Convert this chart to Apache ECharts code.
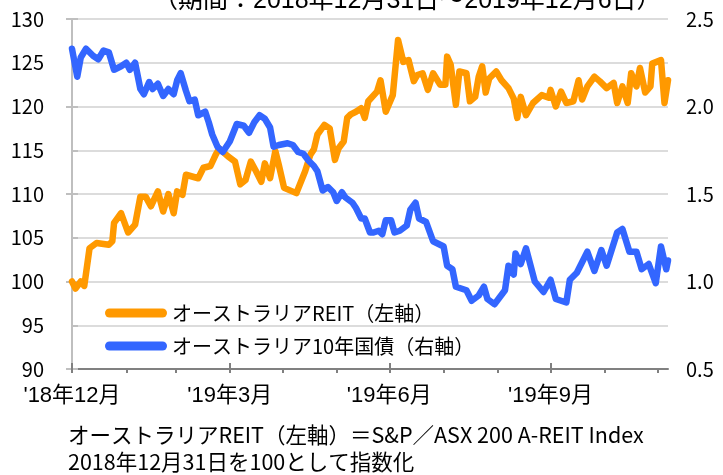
<!DOCTYPE html>
<html>
<head>
<meta charset="utf-8">
<script src="https://cdn.jsdelivr.net/npm/echarts@6/dist/echarts.min.js"></script>
<style>
  html, body { margin: 0; padding: 0; background: #fff; }
  #main { width: 723px; height: 475px; }
</style>
</head>
<body>
<div id="main"></div>
<script>
// 経過日数（2018/12/31 = 0）
const reitDays = [0, 2, 5, 7, 10, 14, 21, 23, 24, 28, 32, 36, 39, 42, 45, 49, 52, 55, 58, 60, 63, 65, 72, 75, 79, 82, 84,
  89, 93, 96, 99, 102, 105, 108, 110, 113, 116, 118, 121, 128, 133, 136, 138, 140, 144, 147, 150, 152, 155, 157, 159,
  162, 165, 167, 169, 174, 176, 179, 183, 186, 189, 192, 195, 197, 200, 203, 206, 210, 213, 214, 216, 219, 221, 225,
  227, 230, 232, 234, 236, 238, 242, 245, 249, 252, 254, 256, 259, 263, 268, 272, 273, 276, 279, 282, 286, 289, 291,
  294, 298, 301, 305, 309, 311, 314, 317, 319, 322, 324, 327, 330, 331, 336, 338, 340];
const reitValues = [100, 99.2, 100, 99.5, 103.8, 104.4, 104.2, 104.6, 106.7, 107.8, 105.6, 106.5, 109.7, 109.7, 108.6,
  110.3, 108, 110, 107.8, 110.3, 109.9, 112.2, 111.8, 113, 113.2, 114.5, 115.2,
  114.3, 113.7, 111.1, 111.6, 113.7, 112.6, 111.4, 113.5, 111.8, 114.9, 113.3, 110.7, 110.1, 112.6, 114.5, 115.1,
  116.8, 117.9, 117.5, 113.9, 115.2, 116, 118.7, 119.1, 119.4, 119.8, 118.7, 120.6, 121.7, 123, 119.4, 121.3, 127.6,
  125.1, 125.3, 122.9, 123.6, 123.8, 121.9, 123.8, 122.5, 122.5, 125.7, 124.8, 120.2, 124, 123.8, 120.6, 121.1,
  123.4, 124.6, 121.6, 123.2, 124, 123, 122.1, 120.9, 118.7, 121.1, 119, 120.4, 121.3, 121, 121.9, 120, 121.7,
  120.4, 120.6, 123, 120.8, 122.3, 123.4, 122.9, 122.1, 122.7, 120.4, 122.3, 120.4, 123.8, 122.3, 124.4, 121.6,
  122.3, 124.9, 125.3, 120.4, 123];

const bondDays = [0, 3, 5, 8, 12, 15, 18, 21, 24, 28, 31, 33, 36, 39, 41, 44, 46, 49, 52, 55, 58, 60, 62, 65, 67, 70,
  72, 76, 78, 80, 83, 86, 90, 94, 98, 101, 104, 107, 110, 113, 115, 118, 123, 126, 129, 132, 135, 138, 140, 143, 146,
  149, 151, 154, 156, 160, 162, 165, 167, 170, 172, 175, 177, 179, 182, 184, 187, 191, 193, 196, 198, 202, 206, 210,
  212, 214, 217, 219, 222, 225, 228, 232, 235, 237, 241, 244, 247, 249, 252, 253, 256, 259, 264, 269, 273, 276, 282,
  284, 288, 294, 298, 302, 305, 311, 314, 318, 322, 325, 329, 333, 336, 339, 340];
const bondValues = [2.33, 2.17, 2.28, 2.33, 2.29, 2.27, 2.32, 2.31, 2.21, 2.23, 2.25, 2.21, 2.25, 2.10, 2.07, 2.14,
  2.10, 2.13, 2.06, 2.10, 2.07, 2.15, 2.19, 2.09, 2.03, 2.04, 1.95, 1.97, 1.91, 1.84, 1.77, 1.74, 1.80, 1.90, 1.89,
  1.85, 1.91, 1.95, 1.93, 1.88, 1.77, 1.78, 1.79, 1.78, 1.74, 1.73, 1.69, 1.66, 1.63, 1.52, 1.54, 1.51, 1.46, 1.51,
  1.48, 1.45, 1.42, 1.36, 1.36, 1.28, 1.28, 1.29, 1.27, 1.35, 1.35, 1.28, 1.29, 1.32, 1.41, 1.45, 1.36, 1.34, 1.23,
  1.21, 1.20, 1.09, 1.07, 0.97, 0.96, 0.95, 0.89, 0.92, 0.97, 0.90, 0.87, 0.91, 0.95, 1.09, 1.04, 1.16, 1.10, 1.19,
  1.00, 0.94, 1.01, 0.90, 0.88, 1.01, 1.05, 1.17, 1.06, 1.18, 1.09, 1.28, 1.30, 1.17, 1.17, 1.07, 1.10, 0.99, 1.20,
  1.07, 1.12];

// 目盛（月末）とラベル
const tickDays = [0, 31, 59, 90, 120, 151, 181, 212, 243, 273, 304, 334];
const labelDays = [0, 90, 181, 273];
const labelTexts = ["'18年12月", "'19年3月", "'19年6月", "'19年9月"];

const seriesNames = ['オーストラリアREIT（左軸）', 'オーストラリア10年国債（右軸）'];

const font = "'Noto Sans CJK JP', 'Noto Sans', sans-serif";
const mixFont = "'Liberation Sans', 'Noto Sans CJK JP', sans-serif";
const chart = echarts.init(document.getElementById('main'));

const option = {
  backgroundColor: '#fff',
  animation: false,
  textStyle: { fontFamily: font, color: '#000' },
  title: {
    text: '（期間：2018年12月31日～2019年12月6日）',
    left: 148,
    top: -16,
    textStyle: { fontFamily: mixFont, fontSize: 25, fontWeight: 'normal', color: '#000' }
  },
  grid: { left: 72, right: 55, top: 19, height: 350 },
  legend: {
    orient: 'vertical',
    left: 100,
    top: 298,
    itemWidth: 62,
    itemHeight: 9,
    itemGap: 13,
    icon: 'path://M4.5,0H57.5A4.5,4.5,0,0,1,57.5,9H4.5A4.5,4.5,0,0,1,4.5,0Z',
    textStyle: { fontFamily: font, fontSize: 20, color: '#000' },
    data: seriesNames
  },
  xAxis: [
    {
      type: 'value',
      min: 0,
      max: 340,
      axisLine: { show: true, lineStyle: { color: '#808080', width: 2 } },
      axisTick: { show: true, customValues: tickDays, length: 4, lineStyle: { color: '#808080', width: 2 } },
      axisLabel: {
        customValues: labelDays,
        margin: 16,
        fontFamily: mixFont,
        fontSize: 22,
        color: '#000',
        formatter: function (v) {
          const i = labelDays.indexOf(v);
          return i >= 0 ? labelTexts[i] : '';
        }
      },
      splitLine: { show: false }
    },
    {
      type: 'value',
      position: 'bottom',
      min: 0,
      max: 340,
      axisLine: { show: false },
      axisTick: { show: true, inside: true, customValues: labelDays, length: 6, lineStyle: { color: '#808080', width: 2 } },
      axisLabel: { show: false },
      splitLine: { show: false }
    }
  ],
  yAxis: [
    {
      type: 'value',
      min: 90,
      max: 130,
      interval: 5,
      axisLine: { show: true, lineStyle: { color: '#bfbfbf', width: 2 } },
      axisTick: { show: true, inside: true, length: 6, lineStyle: { color: '#bfbfbf', width: 2 } },
      axisLabel: { margin: 28, fontFamily: font, fontSize: 20, color: '#000' },
      splitLine: { show: true, lineStyle: { color: '#dcdcdc', width: 2 } }
    },
    {
      type: 'value',
      min: 0.5,
      max: 2.5,
      interval: 0.5,
      axisLine: { show: true, lineStyle: { color: '#bfbfbf', width: 2 } },
      axisTick: { show: true, inside: true, length: 6, lineStyle: { color: '#bfbfbf', width: 2 } },
      axisLabel: {
        margin: 18, fontFamily: font, fontSize: 20, color: '#000',
        formatter: function (v) { return v.toFixed(1); }
      },
      splitLine: { show: false }
    }
  ],
  series: [
    {
      name: seriesNames[0],
      type: 'line',
      yAxisIndex: 0,
      showSymbol: false,
      color: '#FF9900',
      lineStyle: { width: 6.5, color: '#FF9900', cap: 'round', join: 'round' },
      data: reitDays.map((d, i) => [d, reitValues[i]])
    },
    {
      name: seriesNames[1],
      type: 'line',
      yAxisIndex: 1,
      showSymbol: false,
      color: '#3366FF',
      lineStyle: { width: 6.5, color: '#3366FF', cap: 'round', join: 'round' },
      data: bondDays.map((d, i) => [d, bondValues[i]])
    }
  ],
  graphic: [
    {
      type: 'text',
      left: 68,
      top: 424,
      style: { text: 'オーストラリアREIT（左軸）＝S&P／ASX 200 A-REIT Index', font: '21.5px ' + font, fill: '#000' }
    },
    {
      type: 'text',
      left: 68,
      top: 451,
      style: { text: '2018年12月31日を100として指数化', font: '21.5px ' + font, fill: '#000' }
    }
  ]
};

chart.setOption(option);
</script>
</body>
</html>
